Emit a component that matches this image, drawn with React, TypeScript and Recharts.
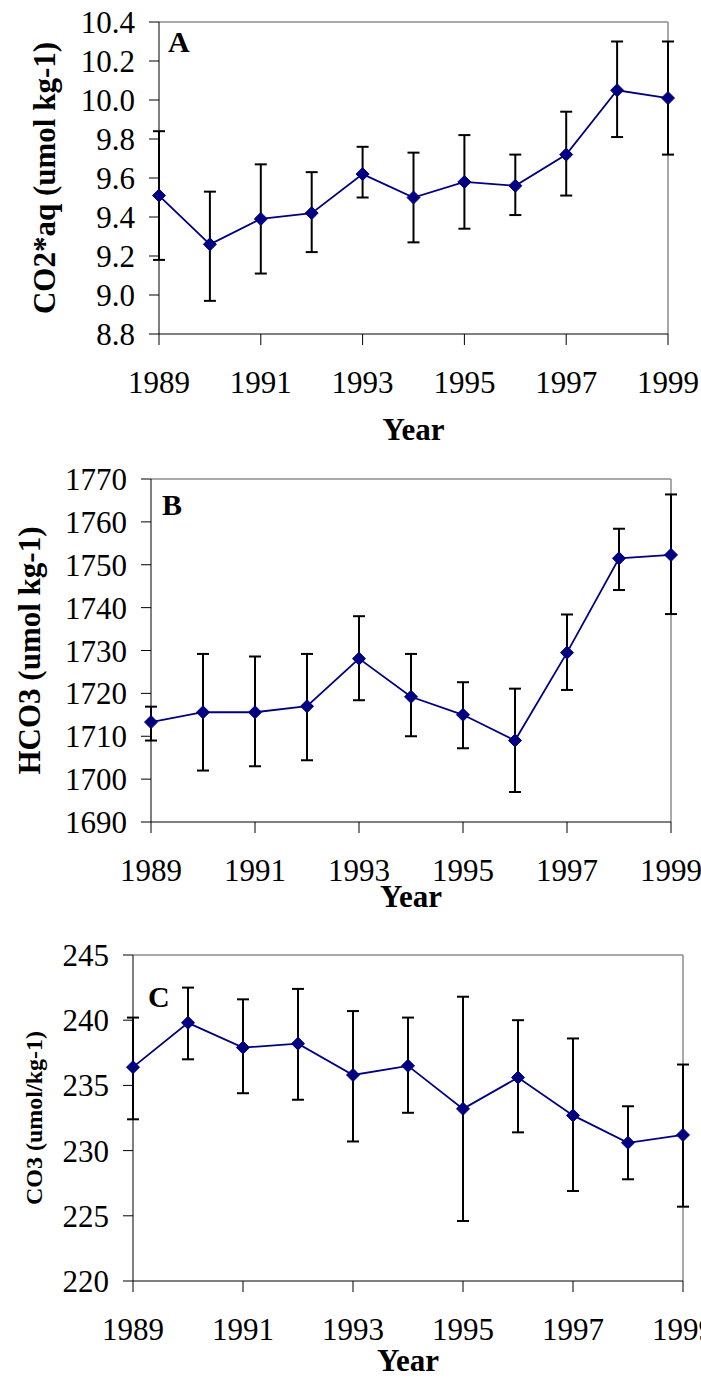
import { LineChart, Line, XAxis, YAxis, ErrorBar, ReferenceLine } from 'recharts';

const years = [1989, 1990, 1991, 1992, 1993, 1994, 1995, 1996, 1997, 1998, 1999];
const yearTicks = [1989, 1991, 1993, 1995, 1997, 1999];

// panel A: CO2*aq
const co2Mean = [9.51, 9.26, 9.39, 9.42, 9.62, 9.5, 9.58, 9.56, 9.72, 10.05, 10.01];
const co2Upper = [9.84, 9.53, 9.67, 9.63, 9.76, 9.73, 9.82, 9.72, 9.94, 10.3, 10.3];
const co2Lower = [9.18, 8.97, 9.11, 9.22, 9.5, 9.27, 9.34, 9.41, 9.51, 9.81, 9.72];
const co2Ticks = [8.8, 9.0, 9.2, 9.4, 9.6, 9.8, 10.0, 10.2, 10.4];

// panel B: HCO3
const hco3Mean = [1713.3, 1715.6, 1715.6, 1717.0, 1728.1, 1719.2, 1715.0, 1709.0, 1729.5, 1751.5, 1752.3];
const hco3Upper = [1716.9, 1729.2, 1728.6, 1729.2, 1738.0, 1729.2, 1722.6, 1721.1, 1738.4, 1758.4, 1766.4];
const hco3Lower = [1709.0, 1702.0, 1703.0, 1704.4, 1718.4, 1710.0, 1707.2, 1697.0, 1720.8, 1744.1, 1738.5];
const hco3Ticks = [1690, 1700, 1710, 1720, 1730, 1740, 1750, 1760, 1770];

// panel C: CO3
const co3Mean = [236.4, 239.8, 237.9, 238.2, 235.8, 236.5, 233.2, 235.6, 232.7, 230.6, 231.2];
const co3Upper = [240.2, 242.5, 241.6, 242.4, 240.7, 240.2, 241.8, 240.0, 238.6, 233.4, 236.6];
const co3Lower = [232.4, 237.0, 234.4, 233.9, 230.7, 232.9, 224.6, 231.4, 226.9, 227.8, 225.7];
const co3Ticks = [220, 225, 230, 235, 240, 245];

const serif = 'Liberation Serif';
const navy = '#000080';

const buildRows = (mean: number[], upper: number[], lower: number[]) =>
  years.map((year, i) => ({
    year,
    value: mean[i],
    err: [mean[i] - lower[i], upper[i] - mean[i]],
  }));

const Diamond = (props: any) => {
  const { cx, cy } = props;
  if (cx == null || cy == null) return null;
  const r = 6.5;
  return (
    <polygon
      points={`${cx},${cy - r} ${cx + r},${cy} ${cx},${cy + r} ${cx - r},${cy}`}
      fill={navy}
      stroke={navy}
    />
  );
};

const XTick = ({ x, y, payload }: any) => (
  <text x={x} y={y} dy="0.71em" textAnchor="middle" fontFamily={serif} fontSize={31} fill="#000">
    {payload.value}
  </text>
);

const makeYTick = (digits: number) => ({ x, y, payload }: any) => (
  <text x={x} y={y} dy="0.355em" textAnchor="end" fontFamily={serif} fontSize={31} fill="#000">
    {Number(payload.value).toFixed(digits)}
  </text>
);

type PanelProps = {
  top: number;
  height: number;
  margin: { top: number; right: number; left: number; bottom: number };
  yWidth: number;
  xHeight: number;
  rows: any[];
  yTicks: number[];
  digits: number;
  title: string;
  titleSize: number;
  titleOffset: number;
  yearOffset: number;
  letter: string;
  letterX: number;
  letterY: number;
};

const Panel = (p: PanelProps) => {
  const yMin = p.yTicks[0];
  const yMax = p.yTicks[p.yTicks.length - 1];
  const YTick = makeYTick(p.digits);
  return (
    <div style={{ position: 'absolute', left: 0, top: p.top }}>
      <LineChart width={701} height={p.height} data={p.rows} margin={p.margin}>
        <XAxis
          dataKey="year"
          type="number"
          domain={[1989, 1999]}
          ticks={yearTicks}
          interval={0}
          height={p.xHeight}
          axisLine={{ stroke: '#000' }}
          tickLine={{ stroke: '#000' }}
          tickSize={11}
          tickMargin={26}
          tick={<XTick />}
          label={{
            value: 'Year',
            position: 'insideBottom',
            offset: p.yearOffset,
            style: { fill: '#000', fontSize: 31, fontWeight: 'bold', fontFamily: serif },
          }}
        />
        <YAxis
          type="number"
          domain={[yMin, yMax]}
          ticks={p.yTicks}
          interval={0}
          width={p.yWidth}
          axisLine={{ stroke: '#000' }}
          tickLine={{ stroke: '#000' }}
          tickSize={10}
          tickMargin={14}
          tick={<YTick />}
          label={{
            value: p.title,
            angle: -90,
            position: 'insideLeft',
            offset: p.titleOffset,
            style: { textAnchor: 'middle', fill: '#000', fontSize: p.titleSize, fontWeight: 'bold', fontFamily: serif },
          }}
        />
        <ReferenceLine y={yMax} stroke="#8c8c8c" strokeWidth={1.5} />
        <ReferenceLine x={1999} stroke="#8c8c8c" strokeWidth={1.5} />
        <Line
          dataKey="value"
          stroke={navy}
          strokeWidth={1.8}
          dot={(d: any) => <Diamond key={d.index} {...d} />}
          activeDot={false}
          isAnimationActive={false}
        >
          <ErrorBar dataKey="err" width={6} stroke="#000" strokeWidth={2} isAnimationActive={false} />
        </Line>
        <text
          x={p.letterX}
          y={p.letterY}
          fontSize={30}
          fontWeight="bold"
          fontFamily={serif}
          fill="#000"
        >
          {p.letter}
        </text>
      </LineChart>
    </div>
  );
};

const App = () => {
  return (
    <div
      style={{
        position: 'absolute',
        left: 0,
        top: 0,
        width: 701,
        height: 1378,
        background: '#fff',
        fontFamily: serif,
      }}
    >
      <Panel
        top={0}
        height={460}
        margin={{ top: 22, right: 33, left: 0, bottom: 0 }}
        yWidth={159}
        xHeight={126}
        rows={buildRows(co2Mean, co2Upper, co2Lower)}
        yTicks={co2Ticks}
        digits={1}
        title="CO2*aq (umol kg-1)"
        titleSize={31}
        titleOffset={44}
        yearOffset={20}
        letter="A"
        letterX={168}
        letterY={52}
      />
      <Panel
        top={460}
        height={462}
        margin={{ top: 19, right: 30, left: 0, bottom: 0 }}
        yWidth={151}
        xHeight={100}
        rows={buildRows(hco3Mean, hco3Upper, hco3Lower)}
        yTicks={hco3Ticks}
        digits={0}
        title="HCO3 (umol kg-1)"
        titleSize={31}
        titleOffset={29}
        yearOffset={15}
        letter="B"
        letterX={162}
        letterY={55}
      />
      <Panel
        top={930}
        height={448}
        margin={{ top: 25, right: 18, left: 0, bottom: 0 }}
        yWidth={133}
        xHeight={97}
        rows={buildRows(co3Mean, co3Upper, co3Lower)}
        yTicks={co3Ticks}
        digits={0}
        title="CO3 (umol/kg-1)"
        titleSize={24}
        titleOffset={33}
        yearOffset={7}
        letter="C"
        letterX={148}
        letterY={77}
      />
    </div>
  );
};

export default App;
